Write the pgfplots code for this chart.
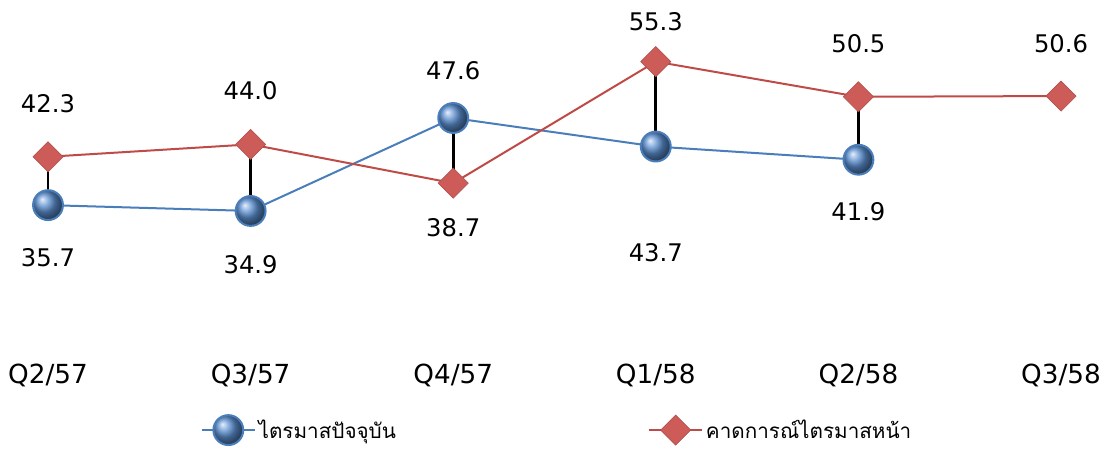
\documentclass[border=0pt]{standalone}
\usepackage{fontspec}
\setmainfont{DejaVu Sans}
\newfontfamily\thaifont[Script=Thai]{Loma}
\usepackage{pgfplots}
\pgfplotsset{compat=1.18}
\definecolor{bluel}{HTML}{4A7EBB}
\definecolor{blueb}{HTML}{5B8FD0}
\definecolor{redl}{HTML}{BE4B48}
\definecolor{redd}{HTML}{CD5B58}

\begin{document}
\begin{tikzpicture}
\begin{axis}[
  width=831pt, height=336pt, scale only axis,
  xmin=-0.237, xmax=5.232, ymin=2.52, ymax=63.72,
  axis line style={draw=none},
  tick style={draw=none},
  ytick=\empty,
  xtick={0,...,5},
  xticklabels={Q2/57,Q3/57,Q4/57,Q1/58,Q2/58,Q3/58},
  xticklabel style={anchor=center, yshift=54.75pt, font=\fontsize{19.7}{23}\selectfont},
  clip=false,
  legend style={at={(axis description cs:0.503,0.04)}, anchor=center, draw=none, fill=none,
    legend columns=2, inner sep=0pt,
    font=\thaifont\fontsize{15.5}{19}\selectfont,
    /tikz/every even column/.append style={column sep=187pt}},
  legend cell align=left,
  legend image code/.code={
    \draw[mark repeat=2, mark phase=2] plot coordinates {(0pt,0pt) (20pt,0pt) (40pt,0pt)};
  },
]
% current quarter
\addplot[color=bluel, line width=1.5pt, mark=ball, mark size=11.2pt, mark options={ball color=blueb}]
  coordinates {(0,35.7) (1,34.9) (2,47.6) (3,43.7) (4,41.9)};
\addlegendentry{ไตรมาสปัจจุบัน}
% forecast
\addplot[color=redl, line width=1.5pt, mark=square*, mark size=8pt,
  mark options={rotate=45, fill=redd, draw=redd!85!black, line width=0.4pt}]
  coordinates {(0,42.3) (1,44.0) (2,38.7) (3,55.3) (4,50.5) (5,50.6)};
\addlegendentry{คาดการณ์ไตรมาสหน้า}
% high-low lines
\addplot[black, line width=2.2pt, unbounded coords=jump, forget plot]
  coordinates {(0,35.7) (0,42.3) (0,nan) (1,34.9) (1,44.0) (1,nan) (2,47.6) (2,38.7) (2,nan)
               (3,43.7) (3,55.3) (3,nan) (4,41.9) (4,50.5)};
% data labels
\addplot[draw=none, mark=none, forget plot, nodes near coords, point meta=explicit symbolic,
  every node near coord/.append style={anchor=center, font=\fontsize{18.2}{22}\selectfont}]
  coordinates {(0,49.5)[42.3] (0,28.47)[35.7] (1,51.29)[44.0] (1,27.52)[34.9]
               (2,54.02)[47.6] (2,32.57)[38.7] (3,60.71)[55.3] (3,29.16)[43.7]
               (4,57.71)[50.5] (4,34.76)[41.9] (5,57.71)[50.6]};
\end{axis}
\pgfresetboundingbox
\path (current axis.south west) rectangle (current axis.north east);
\end{tikzpicture}
\end{document}
